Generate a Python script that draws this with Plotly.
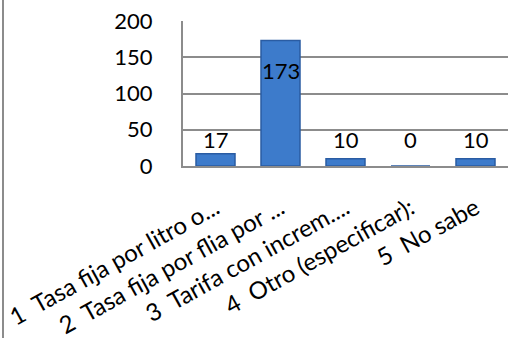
import plotly.graph_objects as go

categories = [
    "1  Tasa fija por litro o...",
    "2  Tasa fija por flia por ...",
    "3  Tarifa con increm....",
    "4  Otro (especificar):",
    "5  No sabe",
]
values = [17, 173, 10, 0, 10]
y_ticks = [0, 50, 100, 150, 200]

W, H = 508, 338
ML, MR, MT, MB = 183, 0, 21, 172
plot_h = H - MT - MB
ppu = plot_h / 200.0
FONT = "Lato, Open Sans, sans-serif"

fig = go.Figure()
fig.add_trace(go.Bar(
    x=categories, y=values, width=0.6,
    marker=dict(color="#3d7bcb", line=dict(color="#2a5ca3", width=1.5)),
    hoverinfo="skip",
))

annotations = []
for c, v in zip(categories, values):
    if v < 100:
        ys = 27 - v * ppu
    else:
        ys = -30
    annotations.append(dict(
        x=c, y=v, xref="x", yref="y", text=str(v), showarrow=False,
        yanchor="middle", yshift=ys,
        font=dict(family=FONT, size=22, color="#000"),
    ))

fig.update_layout(
    template="none",
    width=W, height=H,
    margin=dict(l=ML, r=MR, t=MT, b=MB, autoexpand=False),
    paper_bgcolor="white", plot_bgcolor="white",
    showlegend=False,
    annotations=annotations,
    shapes=[dict(type="line", xref="paper", yref="paper",
                 x0=(3 - ML) / (W - ML - MR), x1=(3 - ML) / (W - ML - MR),
                 y0=(H - MT) / plot_h + 0.01, y1=-(MB) / plot_h - 0.01,
                 line=dict(color="#8c8c8c", width=2))],
    font=dict(family=FONT, color="#000"),
)
fig.update_yaxes(
    range=[0, 200], tickvals=y_ticks, ticktext=[str(t) for t in y_ticks],
    showgrid=True, gridcolor="#8c8c8c", gridwidth=2,
    showline=True, linecolor="#8c8c8c", linewidth=2,
    ticks="", tickfont=dict(size=22), ticklabelstandoff=24,
    zeroline=False, automargin=False,
)
fig.update_xaxes(
    showgrid=False, showline=True, linecolor="#8c8c8c", linewidth=2,
    ticks="", tickangle=-29, tickfont=dict(size=24),
    ticklabelstandoff=17, automargin=False,
)

fig.write_html(
    "out.html",
    config={"displayModeBar": False},
    post_script="document.body.style.margin='0';document.body.style.overflow='hidden';",
)
